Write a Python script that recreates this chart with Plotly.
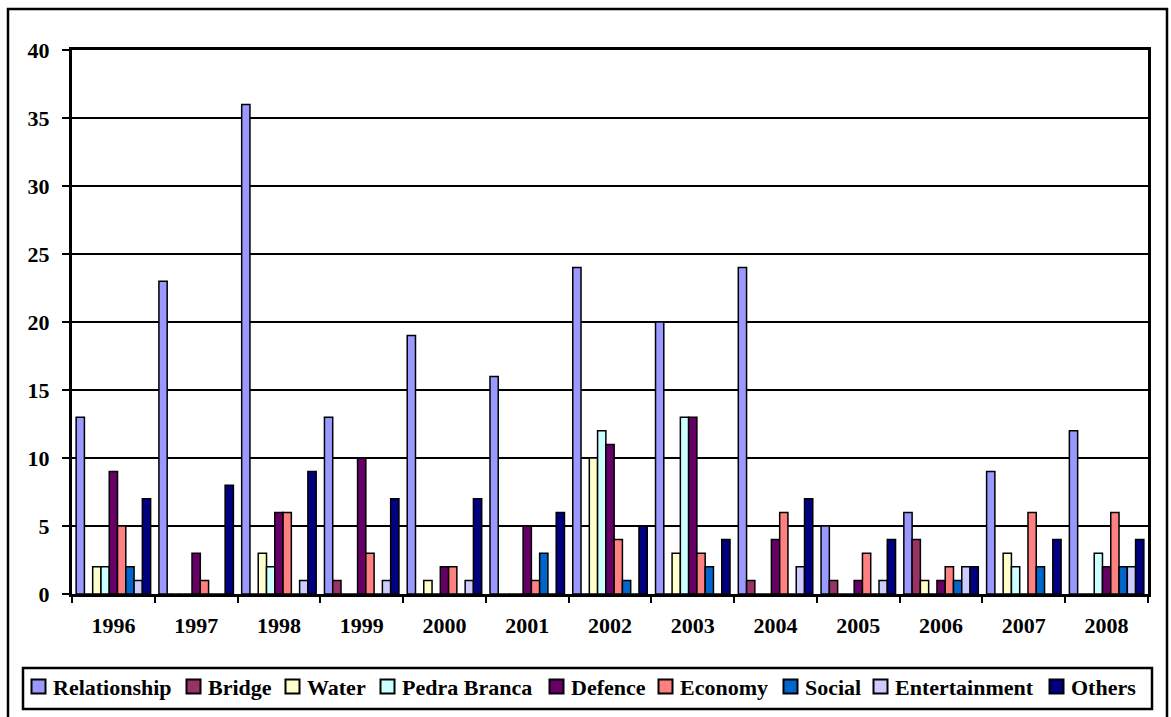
import plotly.graph_objects as go

# Yearly counts per topic
years = ["1996", "1997", "1998", "1999", "2000", "2001", "2002",
         "2003", "2004", "2005", "2006", "2007", "2008"]
relationship = [13, 23, 36, 13, 19, 16, 24, 20, 24, 5, 6, 9, 12]
bridge = [0, 0, 0, 1, 0, 0, 0, 0, 1, 1, 4, 0, 0]
water = [2, 0, 3, 0, 1, 0, 10, 3, 0, 0, 1, 3, 0]
pedra_branca = [2, 0, 2, 0, 0, 0, 12, 13, 0, 0, 0, 2, 3]
defence = [9, 3, 6, 10, 2, 5, 11, 13, 4, 1, 1, 0, 2]
economy = [5, 1, 6, 3, 2, 1, 4, 3, 6, 3, 2, 6, 6]
social = [2, 0, 0, 0, 0, 3, 1, 2, 0, 0, 1, 2, 2]
entertainment = [1, 0, 1, 1, 1, 0, 0, 0, 2, 1, 2, 0, 2]
others = [7, 8, 9, 7, 7, 6, 5, 4, 7, 4, 2, 4, 4]

series_names = ["Relationship", "Bridge", "Water", "Pedra Branca", "Defence",
                "Economy", "Social", "Entertainment", "Others"]
series_values = [relationship, bridge, water, pedra_branca, defence,
                 economy, social, entertainment, others]
series_colors = ["#9999FF", "#993366", "#FFFFCC", "#CCFFFF", "#660066",
                 "#FF8080", "#0066CC", "#CCCCFF", "#000080"]

# Page geometry (pixels)
W, H = 1171, 717
ML, MR, MT, MB = 72, 23, 50, 123
PW = W - ML - MR
PH = H - MT - MB


def px_x(x):
    return (x - ML) / PW


def px_y(y):
    return (H - MB - y) / PH


FONT = "Liberation Serif, Times New Roman, serif"

fig = go.Figure()
for name, vals, col in zip(series_names, series_values, series_colors):
    fig.add_trace(go.Bar(
        name=name, x=years, y=vals,
        marker=dict(color=col, line=dict(color="black", width=1.5)),
        showlegend=False,
    ))

shapes = [
    # outer frame
    dict(type="rect", xref="paper", yref="paper",
         x0=px_x(8), x1=px_x(1167), y0=px_y(740), y1=px_y(9),
         line=dict(color="black", width=2.5), fillcolor="rgba(0,0,0,0)",
         layer="below"),
    # legend frame
    dict(type="rect", xref="paper", yref="paper",
         x0=px_x(23), x1=px_x(1152), y0=px_y(709), y1=px_y(668),
         line=dict(color="black", width=2.5), fillcolor="white"),
]
annotations = []

# legend entries: swatch left edges
swatch_x = [31, 186, 285, 380, 549, 658, 783, 873, 1049]
for sx, name, col in zip(swatch_x, series_names, series_colors):
    shapes.append(dict(type="rect", xref="paper", yref="paper",
                       x0=px_x(sx + 0.5), x1=px_x(sx + 14.5),
                       y0=px_y(693.5), y1=px_y(679.5),
                       line=dict(color="black", width=2), fillcolor=col))
    annotations.append(dict(xref="paper", yref="paper",
                            x=px_x(sx + 20), y=px_y(687),
                            xanchor="left", yanchor="middle",
                            text=name, showarrow=False,
                            font=dict(family=FONT, size=22, color="black",
                                      weight="bold")))

fig.update_layout(
    width=W, height=H,
    margin=dict(l=ML, r=MR, t=MT, b=MB, pad=0),
    paper_bgcolor="white", plot_bgcolor="white",
    barmode="group", bargap=0.1, bargroupgap=0,
    font=dict(family=FONT, size=22, color="black", weight="bold"),
    shapes=shapes, annotations=annotations,
    showlegend=False,
)
fig.update_xaxes(
    type="category", tickson="boundaries",
    showline=True, linecolor="black", linewidth=3, mirror=True,
    ticks="outside", ticklen=6, tickwidth=2, tickcolor="black",
    showgrid=False, ticklabelstandoff=10,
    tickfont=dict(family=FONT, size=22, color="black", weight="bold"),
)
fig.update_yaxes(
    range=[0, 40], dtick=5,
    showline=True, linecolor="black", linewidth=3, mirror=True,
    ticks="outside", ticklen=7, tickwidth=2, tickcolor="black",
    showgrid=True, gridcolor="black", gridwidth=2, zeroline=False,
    ticklabelstandoff=8,
    tickfont=dict(family=FONT, size=22, color="black", weight="bold"),
)

fig.write_html("out.html")
